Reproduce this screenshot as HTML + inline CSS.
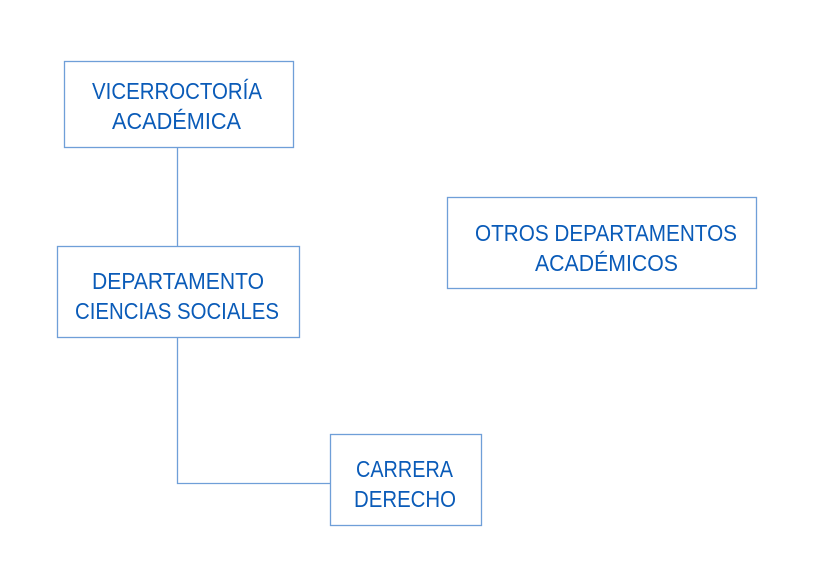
<!DOCTYPE html>
<html><head><meta charset="utf-8"><style>
html,body{margin:0;padding:0;background:#fff;width:828px;height:579px;overflow:hidden}
text{font-family:"Liberation Sans",sans-serif;font-size:23px;fill:#0a5bb8}
</style></head><body>
<svg width="828" height="579" viewBox="0 0 828 579" xmlns="http://www.w3.org/2000/svg">
<g fill="none" stroke="#6f9fd8" stroke-width="1.3">
<rect x="64.5" y="61.5" width="229" height="86"/>
<rect x="57.5" y="246.5" width="242" height="91"/>
<rect x="330.5" y="434.5" width="151" height="91"/>
<rect x="447.5" y="197.5" width="309" height="91"/>
<path d="M177.5 148 V246 M177.5 338 V483.5 H330"/>
</g>
<text x="92" y="99" textLength="170" lengthAdjust="spacingAndGlyphs">VICERROCTORÍA</text>
<text x="112" y="129" textLength="129" lengthAdjust="spacingAndGlyphs">ACADÉMICA</text>
<text x="92" y="289" textLength="172" lengthAdjust="spacingAndGlyphs">DEPARTAMENTO</text>
<text x="75" y="319" textLength="204" lengthAdjust="spacingAndGlyphs">CIENCIAS SOCIALES</text>
<text x="356" y="477" textLength="97" lengthAdjust="spacingAndGlyphs">CARRERA</text>
<text x="354" y="507" textLength="102" lengthAdjust="spacingAndGlyphs">DERECHO</text>
<text x="475" y="241" textLength="262" lengthAdjust="spacingAndGlyphs">OTROS DEPARTAMENTOS</text>
<text x="535" y="271" textLength="143" lengthAdjust="spacingAndGlyphs">ACADÉMICOS</text>
</svg>
</body></html>
